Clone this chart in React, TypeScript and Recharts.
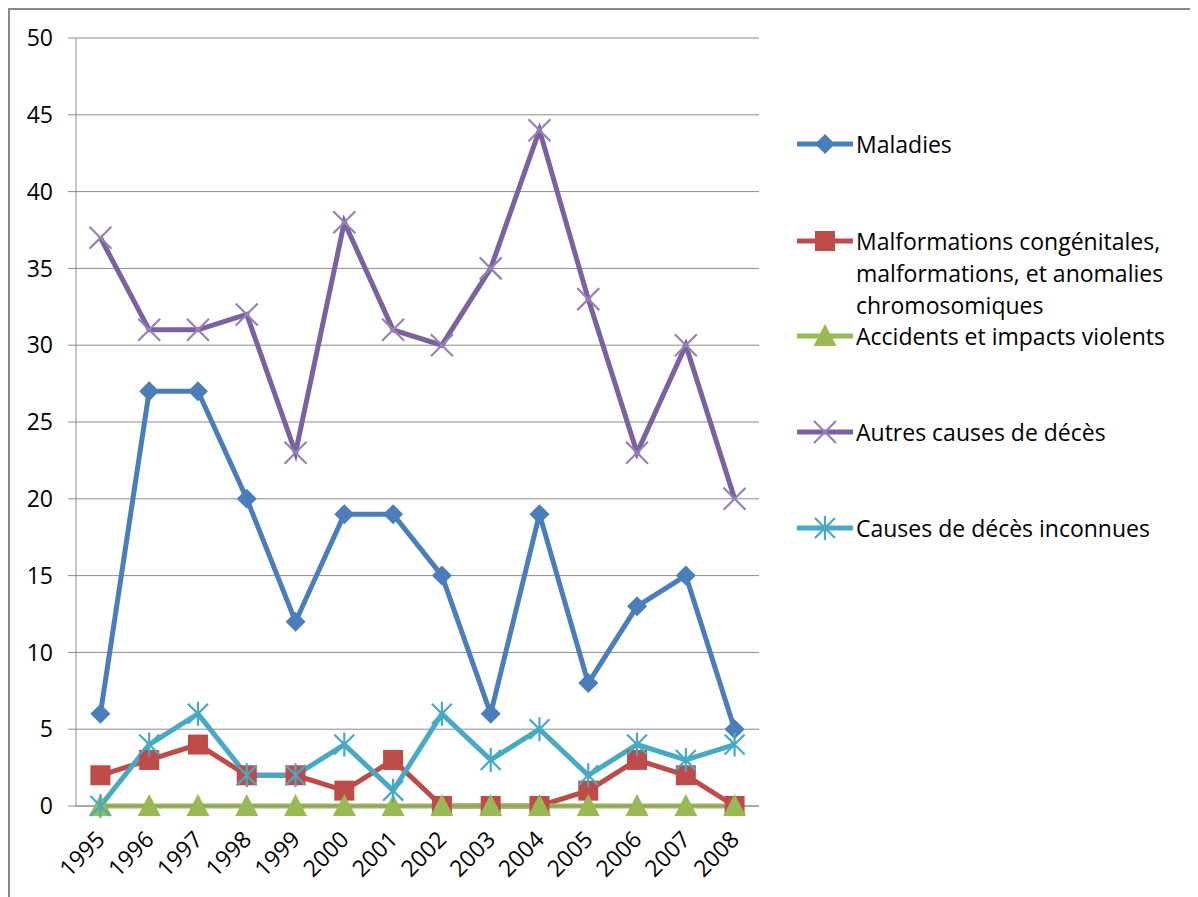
import React from 'react';
import { LineChart, Line, XAxis, YAxis, CartesianGrid } from 'recharts';

// Years on the category axis
const years = ['1995', '1996', '1997', '1998', '1999', '2000', '2001', '2002', '2003', '2004', '2005', '2006', '2007', '2008'];

// Counts per cause of death
const maladies = [6, 27, 27, 20, 12, 19, 19, 15, 6, 19, 8, 13, 15, 5];
const malformations = [2, 3, 4, 2, 2, 1, 3, 0, 0, 0, 1, 3, 2, 0];
const accidents = [0, 0, 0, 0, 0, 0, 0, 0, 0, 0, 0, 0, 0, 0];
const autres = [37, 31, 31, 32, 23, 38, 31, 30, 35, 44, 33, 23, 30, 20];
const inconnues = [0, 4, 6, 2, 2, 4, 1, 6, 3, 5, 2, 4, 3, 4];

const yTicks = [0, 5, 10, 15, 20, 25, 30, 35, 40, 45, 50];
const edgeTicks = [0, 1, 2, 3, 4, 5, 6, 7, 8, 9, 10, 11, 12, 13, 14];

const data = years.map((year, i) => ({
  year,
  maladies: maladies[i],
  malformations: malformations[i],
  accidents: accidents[i],
  autres: autres[i],
  inconnues: inconnues[i],
}));

const COLORS = {
  maladies: '#4A7EBB',
  malformations: '#BE4B48',
  accidents: '#98B954',
  autres: '#7D60A0',
  autresMarker: '#9782B8',
  inconnues: '#46AAC5',
};

const FONT = '"Open Sans", sans-serif';
const GRID = '#8C8C8C';
const FS = 23;
const LW = 5;

type Shape = 'diamond' | 'square' | 'triangle' | 'cross' | 'star';

function markerEl(shape: Shape, cx: number, cy: number, color: string, key?: any) {
  switch (shape) {
    case 'diamond':
      return <path key={key} d={`M${cx},${cy - 10}L${cx + 10},${cy}L${cx},${cy + 10}L${cx - 10},${cy}Z`} fill={color} />;
    case 'square':
      return <rect key={key} x={cx - 10} y={cy - 10} width={20} height={20} fill={color} />;
    case 'triangle':
      return <path key={key} d={`M${cx},${cy - 12}L${cx + 11.5},${cy + 10}L${cx - 11.5},${cy + 10}Z`} fill={color} />;
    case 'cross':
      return (
        <path key={key} d={`M${cx - 11},${cy - 11}L${cx + 11},${cy + 11}M${cx - 11},${cy + 11}L${cx + 11},${cy - 11}`}
          stroke={color} strokeWidth={2.2} fill="none" />
      );
    case 'star':
    default:
      return (
        <path key={key}
          d={`M${cx - 10},${cy - 10}L${cx + 10},${cy + 10}M${cx - 10},${cy + 10}L${cx + 10},${cy - 10}M${cx},${cy - 12}L${cx},${cy + 12}`}
          stroke={color} strokeWidth={2.2} fill="none" />
      );
  }
}

const dotOf = (shape: Shape, color: string) => (props: any) =>
  markerEl(shape, props.cx, props.cy, color, `${shape}-${props.index}`);

const YearTick = (props: any) => {
  const { x, y, payload } = props;
  return (
    <g transform={`translate(${x + 6},${y + 25}) rotate(-45)`}>
      <text x={0} y={0} textAnchor="end" fontSize={FS} fill="#000" fontFamily={FONT}>
        {payload.value}
      </text>
    </g>
  );
};

const legendItems: { label: string[]; color: string; marker: string; shape: Shape; top: number }[] = [
  { label: ['Maladies'], color: COLORS.maladies, marker: COLORS.maladies, shape: 'diamond', top: 118 },
  { label: ['Malformations congénitales,', 'malformations, et anomalies', 'chromosomiques'], color: COLORS.malformations, marker: COLORS.malformations, shape: 'square', top: 215 },
  { label: ['Accidents et impacts violents'], color: COLORS.accidents, marker: COLORS.accidents, shape: 'triangle', top: 310 },
  { label: ['Autres causes de décès'], color: COLORS.autres, marker: COLORS.autresMarker, shape: 'cross', top: 406 },
  { label: ['Causes de décès inconnues'], color: COLORS.inconnues, marker: COLORS.inconnues, shape: 'star', top: 502 },
];

export default function App() {
  return (
    <div
      style={{
        position: 'relative',
        width: 1190,
        height: 889,
        borderTop: '2px solid #8A8A8A',
        borderLeft: '2px solid #8A8A8A',
        background: '#fff',
        fontFamily: FONT,
      }}
    >
      <LineChart width={1188} height={887} data={data} margin={{ top: 28, right: 439, left: 0, bottom: 0 }}>
        <CartesianGrid vertical={false} stroke={GRID} strokeWidth={1} />
        <YAxis
          domain={[0, 50]}
          ticks={yTicks}
          width={66}
          interval={0}
          axisLine={{ stroke: GRID }}
          tickLine={{ stroke: GRID }}
          tickSize={8}
          tickMargin={15}
          tick={{ fontSize: FS, fill: '#000', fontFamily: FONT }}
        />
        <XAxis
          xAxisId="b"
          dataKey="year"
          scale="band"
          interval={0}
          height={81}
          axisLine={false}
          tickLine={false}
          tickSize={0}
          tickMargin={0}
          tick={<YearTick />}
        />
        <XAxis
          xAxisId="a"
          type="number"
          domain={[0, 14]}
          ticks={edgeTicks}
          interval={0}
          height={10}
          allowDataOverflow
          axisLine={{ stroke: GRID }}
          tickLine={{ stroke: GRID }}
          tickSize={9}
          tick={false}
        />
        <Line xAxisId="b" dataKey="maladies" stroke={COLORS.maladies} strokeWidth={LW} dot={dotOf('diamond', COLORS.maladies)} isAnimationActive={false} />
        <Line xAxisId="b" dataKey="malformations" stroke={COLORS.malformations} strokeWidth={LW} dot={dotOf('square', COLORS.malformations)} isAnimationActive={false} />
        <Line xAxisId="b" dataKey="accidents" stroke={COLORS.accidents} strokeWidth={LW} dot={dotOf('triangle', COLORS.accidents)} isAnimationActive={false} />
        <Line xAxisId="b" dataKey="autres" stroke={COLORS.autres} strokeWidth={LW} dot={dotOf('cross', COLORS.autresMarker)} isAnimationActive={false} />
        <Line xAxisId="b" dataKey="inconnues" stroke={COLORS.inconnues} strokeWidth={LW} dot={dotOf('star', COLORS.inconnues)} isAnimationActive={false} />
      </LineChart>

      {legendItems.map((item) => (
        <div
          key={item.label[0]}
          style={{ position: 'absolute', left: 787, top: item.top, display: 'flex', alignItems: 'flex-start' }}
        >
          <svg width={56} height={32} style={{ flex: 'none' }}>
            <line x1={1} y1={16} x2={55} y2={16} stroke={item.color} strokeWidth={LW} strokeLinecap="round" />
            {markerEl(item.shape, 28, 16, item.marker)}
          </svg>
          <div style={{ marginLeft: 3, fontSize: FS, lineHeight: '32px', color: '#000', whiteSpace: 'nowrap' }}>
            {item.label.map((l) => (
              <div key={l}>{l}</div>
            ))}
          </div>
        </div>
      ))}
    </div>
  );
}
